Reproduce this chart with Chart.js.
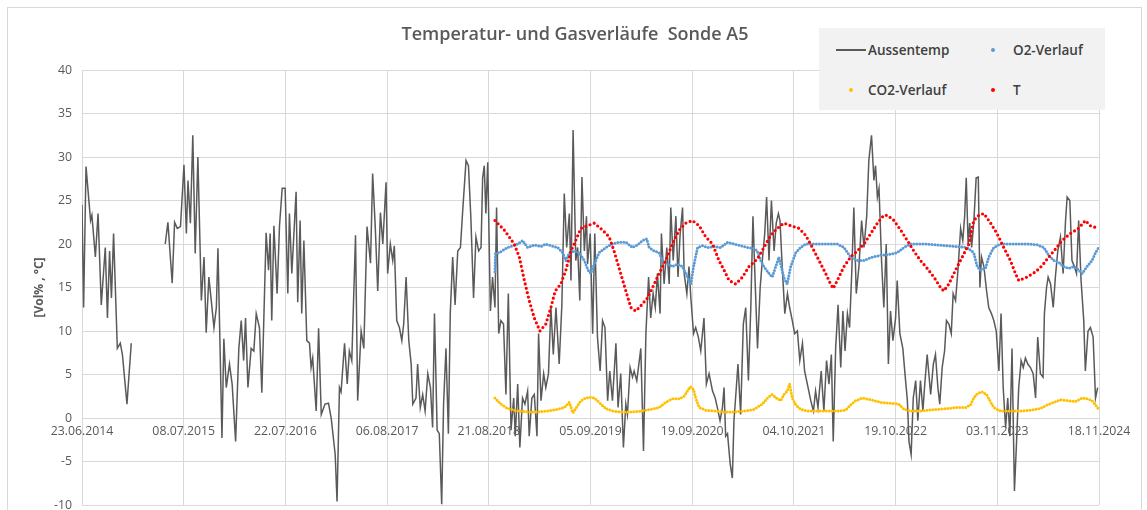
<!DOCTYPE html>
<html><head><meta charset="utf-8">
<script src="https://cdn.jsdelivr.net/npm/chart.js@4.4.1/dist/chart.umd.min.js"></script>
<style>
html,body{margin:0;padding:0;background:#fff;overflow:hidden;}
#wrap{position:relative;width:1147px;height:510px;overflow:hidden;}
#frame{position:absolute;left:7px;top:7px;width:1135px;height:530px;border:1px solid #d9d9d9;box-sizing:border-box;}
#c{position:absolute;left:0;top:0;}
#title{position:absolute;left:0;top:19px;width:1150px;text-align:center;font:600 18px 'Open Sans';color:#595959;line-height:28px;white-space:pre;}
#legend{position:absolute;left:819px;top:28px;width:286px;height:82px;background:#f2f2f2;font:600 13.5px 'Open Sans';color:#404040;}
.it{position:absolute;line-height:18px;white-space:nowrap;}
.dot{position:absolute;width:4px;height:4px;border-radius:2px;}
</style></head>
<body>
<div id="wrap">
<div id="frame"></div>
<canvas id="c" width="1147" height="510"></canvas>
<div id="title">Temperatur- und Gasverläufe  Sonde A5</div>
<div id="legend">
  <div style="position:absolute;left:17px;top:21px;width:30px;height:1.5px;background:#5a5a5a"></div>
  <div class="it" style="left:49px;top:13px">Aussentemp</div>
  <div class="dot" style="left:172px;top:20px;background:#5b9bd5"></div>
  <div class="it" style="left:194px;top:13px">O2-Verlauf</div>
  <div class="dot" style="left:30px;top:60px;background:#ffc000"></div>
  <div class="it" style="left:49px;top:53px">CO2-Verlauf</div>
  <div class="dot" style="left:172px;top:60px;background:#ff0000"></div>
  <div class="it" style="left:194px;top:53px">T</div>
</div>
</div>
<script>
// x values: days since 23.06.2014
const xTickLabels = ['23.06.2014','08.07.2015','22.07.2016','06.08.2017','21.08.2018','05.09.2019','19.09.2020','04.10.2021','19.10.2022','03.11.2023','18.11.2024'];
const xTickStepDays = 380;
const yTicks = {min:-10, max:40, step:5};

const aussentemp = [[0,24.5],[6,12.7],[15,28.9],[32,22.7],[37,23.3],[50,18.5],[60,23.5],[72,13],[87,19.6],[95,11.5],[103,19.2],[110,13.8],[118,21.2],[132,8],[143,8.6],[151,7.3],[168,1.6],[184,8.6],
[250,null],
[311,20],[321,22.5],[337,15.5],[346,22.5],[356,21.8],[368,22],[381,29.1],[390,21.2],[396,27.3],[405,22.4],[414,32.5],[423,18.9],[433,30],[446,13.5],[456,18.5],[464,9.8],[474,16.2],[483,13.5],[493,10.4],[502,12.7],[508,19.5],[523,-2.3],[530,9.1],[539,3.5],[551,6.2],[561,3.9],[574,-2.7],[586,8],[595,11.2],[604,6.6],[611,11.5],
[620,3.5],[632,8],[642,7.7],[651,12],[663,10.4],[672,2.9],[688,21.3],[697,17],[703,21.2],[709,11.2],[717,22.1],[729,14.3],[738,22.1],[748,26.4],[759,26.4],[769,14.3],[775,23.5],[784,16.6],[800,26],[806,13.3],[815,22.7],[821,12],[829,20.4],[840,8.9],[850,8.6],[856,5.8],[862,6.9],[875,0.8],[884,10.3],[894,0.4],[908,1.6],[921,1.7],[931,0],[946,-4.2],[953,-9.6],[962,3.5],[968,3.0],[981,8.6],[991,3.9],[999,7.7],[1008,6.6],[1022,21],[1030,2],[1043,10],[1053,8],[1065,22],[1078,17.8],[1086,28.1],[1096,21.8],[1105,14.6],[1115,23.6],[1124,20],[1136,27.1],[1142,16.6],[1152,20],[1161,18.1],[1167,19.8],[1176,11.2],[1186,10.4],[1195,8.9],[1202,10.8],[1211,16.2],[1221,8.9],[1230,6.2],[1236,1.6],[1248,2.3],
[1254,6.2],[1264,1.2],[1273,2.7],[1282,0.8],[1292,5.1],[1302,3.5],[1310,-1.1],[1317,12],[1327,-1.4],[1335,-1.8],[1344,-9.9],[1351,1.6],[1360,8],[1369,-1.8],[1376,12],[1385,18.5],[1394,13],[1404,19.2],[1414,19.6],[1422,23.6],[1435,29.6],[1444,29],[1453,23],[1463,13.8],[1472,20.8],[1482,19.2],[1491,19.6],[1497,27.6],[1503,29],[1509,23.5],[1516,29.4],[1526,12.3],[1534,16.2],[1543,12.7],[1549,24.2],[1557,9.7],[1565,11.2],[1575,10.8],[1584,2.7],[1593,14.3],[1603,-1.4],[1613,2.3],[1619,-2.1],[1628,3.9],[1636,-3.4],[1646,2.3],[1655,1.6],[1665,3.1],[1671,-2.1],[1681,2.3],[1690,2.7],[1700,-2.1],[1706,9.7],[1715,2.0],[1725,5.1],[1733,3.5],[1743,5.1],[1752,12.7],[1761,7.3],[1771,12.7],[1783,6.2],[1793,13],[1802,25.8],[1811,19.6],[1821,23.5],[1827,15.8],[1835,33.1],[1845,18.1],[1852,19.6],[1860,13.5],[1868,27.7],[1877,19.2],[1885,23.2],
[1889,17.7],[1899,21.2],[1908,9.7],[1916,21.2],[1926,9.3],[1936,5.4],[1945,11.2],[1954,10.4],[1964,2.0],[1972,5.4],[1982,2.0],[1995,8.6],[2003,1.2],[2013,5.1],[2023,-3.4],[2032,1.6],[2038,0.4],[2048,5.8],[2057,4.7],[2063,5.4],[2073,4.3],[2088,8],[2098,-3.8],[2107,9.7],[2117,16.2],[2125,11.5],[2134,14.3],[2142,12.7],[2150,16.6],[2160,12],[2165,21.2],[2175,15.4],[2185,19.6],[2194,15.4],[2200,24.2],[2209,18.1],[2219,23.2],[2227,16.2],[2235,21.2],[2244,24.2],[2250,16.6],[2260,14.3],[2268,17.4],[2275,13.8],[2285,9.7],[2293,10.4],[2303,9.3],[2312,7.7],[2324,11.5],[2333,3.9],[2343,5.1],[2356,3.1],[2366,2.3],[2374,1.2],[2384,-0.3],[2393,1.2],[2399,3.5],[2405,-2.1],[2412,-1.8],[2422,-5.3],[2430,-6.9],[2436,-0.3],[2443,2.7],[2451,6.2],[2461,0.4],[2471,10.8],[2480,12.7],[2490,4.3],[2499,12.7],[2507,23.2],[2515,15.8],
[2524,8],[2534,15],[2542,18.1],[2551,21.2],[2558,25.4],[2567,18.1],[2576,25],[2586,19.2],[2594,22.4],[2602,23.5],[2608,22.7],[2617,17],[2626,12],[2636,14.3],[2644,12.7],[2654,11.2],[2663,9.7],[2673,10],[2682,6.6],[2692,8.6],[2700,5.4],[2713,3.5],[2723,2.0],[2733,0.8],[2741,3.1],[2750,1.2],[2762,5.4],[2772,0.8],[2782,6.6],[2791,3.9],[2800,7.3],[2807,-2.7],[2816,8],[2825,13],[2835,5.8],[2843,12.3],[2851,7.7],[2860,12],[2868,10.4],[2876,16.6],[2884,24.2],[2893,14.3],[2903,17.4],[2913,22.7],[2922,19.6],[2932,23.2],[2940,29.6],[2950,32.5],[2959,27.3],[2965,29],[2972,25.4],[2978,26.4],[2988,17.7],[2996,12.7],[3005,20],[3013,6.2],[3021,12.3],[3030,8.9],[3040,11.5],[3046,15.8],[3056,9.7],[3067,8],[3075,5.1],[3084,2.0],[3090,-2.7],[3098,-4.2],[3106,2.3],[3115,4.3],[3123,-0.3],[3133,4.3],[3142,0.8],[3149,3.9],
[3158,7.3],[3171,2.7],[3181,6.2],[3189,7.3],[3198,3.5],[3205,1.6],[3214,5.8],[3223,7.7],[3230,11.2],[3239,10.8],[3248,9.7],[3255,14.3],[3264,13.5],[3273,17],[3283,21.8],[3291,20.4],[3298,23.2],[3304,27.6],[3311,20],[3317,22.4],[3324,19.6],[3332,22.4],[3341,27.6],[3349,27.7],[3355,15],[3361,18.5],[3370,17.4],[3380,14.6],[3388,12.7],[3398,12],[3407,11.2],[3416,10],[3426,5.4],[3434,12],[3442,3.5],[3451,-1.1],[3459,2.3],[3467,-2.1],[3475,8],[3484,-8.4],[3492,-2.7],[3500,3.5],[3509,6.6],[3517,5.8],[3525,6.9],[3534,6.2],[3544,5.8],[3554,5.1],[3563,2.3],[3571,9.3],[3581,5.1],[3591,4.7],[3596,12],[3604,15],[3610,16.2],[3619,15.4],[3629,12.7],[3637,16.2],[3646,19.2],[3656,20.8],[3666,16.6],[3675,22.7],[3681,25.4],[3691,25],[3699,18.1],[3708,17.4],[3716,16.6],[3724,22.7],[3733,15.8],[3743,11.2],[3749,5.4],[3759,10],[3768,10.4],[3778,9.3],[3787,2.3],[3795,3.5]];

const o2Verlauf = [[1543,16.8],[1545,18.9],[1559,19],[1590,19.6],[1628,20],[1646,20.4],[1665,19.6],[1690,19.9],[1715,19.7],[1733,20],[1752,19.8],[1777,19.6],[1796,19],[1808,18.1],[1821,19],[1839,19.2],[1858,19],[1877,18.1],[1891,17],[1901,16.6],[1914,17.7],[1932,19],[1957,19.6],[1982,20],[2007,20.2],[2032,20.2],[2057,19.6],[2076,19.9],[2094,20.4],[2110,20.6],[2119,19.6],[2138,19.2],[2156,19],[2169,18.1],[2188,17.7],[2206,17.4],[2225,17.7],[2244,17.4],[2262,16.2],[2275,15.4],[2285,17.4],[2300,19.6],[2318,19.8],[2337,19.6],[2362,19.7],[2387,19.6],[2412,20.2],[2436,20],[2461,19.8],[2486,19.6],[2511,19.5],[2523,19.2],[2536,18.1],[2548,17.4],[2567,16.6],[2579,16.2],[2592,17.4],[2604,18.5],[2623,16.1],[2635,15.4],[2648,17.4],[2667,19],[2685,19.6],[2704,20],[2729,20],[2760,20],[2791,20],[2822,20],[2847,19.6],[2872,18.5],[2897,18.1],[2922,18.1],[2953,18.5],[2984,18.7],[3015,18.8],[3046,19],[3071,19.6],[3096,20],[3127,20],[3158,20],[3195,19.9],[3233,19.8],[3270,19.7],[3307,19.6],[3332,19],[3345,17.4],[3357,17],[3376,17.2],[3388,18.5],[3407,19.6],[3432,20],[3463,20],[3494,20],[3531,20],[3569,19.9],[3594,19.6],[3612,18.7],[3631,18.1],[3650,17.9],[3668,17.4],[3687,17.2],[3706,17.4],[3724,17],[3737,16.6],[3755,17.4],[3774,18.1],[3787,19],[3799,19.6]];

const co2Verlauf = [[1543,2.3],[1565,1.6],[1590,1.1],[1628,0.8],[1665,0.7],[1702,0.7],[1740,0.8],[1777,1.0],[1802,1.2],[1821,1.8],[1834,0.6],[1862,1.9],[1875,2.2],[1896,2.4],[1914,2.3],[1932,1.8],[1957,1.1],[1982,0.8],[2013,0.7],[2051,0.7],[2088,0.8],[2125,1.0],[2156,1.2],[2181,1.8],[2206,2.2],[2231,2.2],[2250,2.5],[2262,3.1],[2272,3.6],[2285,3.3],[2293,2.3],[2306,1.2],[2331,0.9],[2362,0.8],[2399,0.7],[2436,0.7],[2474,0.8],[2511,1.0],[2542,1.6],[2561,2.3],[2579,2.7],[2598,2.2],[2611,2.0],[2623,2.7],[2635,3.1],[2644,3.9],[2654,2.3],[2667,1.5],[2685,1.0],[2710,0.8],[2747,0.8],[2785,0.8],[2822,0.8],[2853,0.9],[2872,1.5],[2891,2.0],[2916,2.3],[2947,2.1],[2984,1.8],[3021,1.7],[3052,1.6],[3071,1.0],[3096,0.8],[3133,0.8],[3158,0.9],[3195,1.0],[3233,1.1],[3270,1.2],[3301,1.2],[3320,1.5],[3332,2.3],[3345,2.8],[3363,3.0],[3380,2.7],[3392,2.0],[3407,1.2],[3432,0.8],[3469,0.8],[3507,0.8],[3544,0.9],[3581,1.1],[3606,1.5],[3631,1.8],[3656,2.1],[3681,2.0],[3712,1.9],[3737,2.3],[3755,2.2],[3774,2.0],[3787,1.5],[3799,1.0]];

const tVerlauf = [[1543,22.7],[1578,21.6],[1615,20],[1634,18.5],[1653,15.8],[1671,13.5],[1690,11.5],[1711,10],[1733,10.8],[1752,12.7],[1768,14.6],[1789,15.4],[1808,17],[1827,19.2],[1839,20],[1864,21.8],[1889,22.1],[1914,22.4],[1945,21.6],[1970,20.8],[1988,19.2],[2013,16.6],[2032,14.6],[2051,12.7],[2069,12.3],[2088,12.9],[2113,13.8],[2138,15.4],[2156,16.6],[2181,18.1],[2206,20],[2231,21.6],[2256,22.4],[2281,22.7],[2306,22.1],[2331,20.8],[2356,20],[2380,18.1],[2399,17],[2418,15.8],[2443,15.4],[2468,16.2],[2492,17.4],[2524,18.3],[2548,19.6],[2573,21],[2598,21.8],[2623,22.4],[2648,22.1],[2679,21.8],[2704,21],[2729,19.6],[2754,18.1],[2779,16.6],[2797,15.4],[2807,14.9],[2822,15.8],[2847,17.4],[2872,18.5],[2897,19.2],[2922,20],[2947,21.2],[2972,22.4],[2996,23.3],[3009,23.3],[3034,22.7],[3059,21.6],[3084,20.4],[3108,19.2],[3133,18.1],[3158,17.2],[3183,16.2],[3208,15],[3220,14.6],[3239,15.4],[3264,17],[3289,18.5],[3314,20],[3332,22.7],[3351,23.3],[3370,23.5],[3395,22.4],[3419,21.2],[3444,19.6],[3469,18.1],[3488,16.6],[3500,15.8],[3531,16.2],[3563,16.8],[3587,17.5],[3612,18.5],[3637,19.4],[3662,20.4],[3693,21.2],[3724,21.8],[3749,22.7],[3768,22.1],[3787,21.9],[3799,21.9]];

const xy = arr => arr.map(p => ({x:p[0], y:p[1]}));
const font = {family:"'Open Sans'", size:12};
const noPad = s => { s.paddingLeft = 0; s.paddingRight = 0; s.paddingTop = 0; s.paddingBottom = 0; };

new Chart(document.getElementById('c'), {
  type:'line',
  data:{datasets:[
    {label:'T', data:xy(tVerlauf), borderColor:'#ff0000', backgroundColor:'#ff0000', borderWidth:3.2, borderDash:[0,4.5], borderCapStyle:'round', pointRadius:0, order:1},
    {label:'CO2-Verlauf', data:xy(co2Verlauf), borderColor:'#ffc000', backgroundColor:'#ffc000', borderWidth:3, borderDash:[0,3], borderCapStyle:'round', pointRadius:0, order:2},
    {label:'O2-Verlauf', data:xy(o2Verlauf), borderColor:'#5b9bd5', backgroundColor:'#5b9bd5', borderWidth:3, borderDash:[0,3], borderCapStyle:'round', pointRadius:0, order:3},
    {label:'Aussentemp', data:xy(aussentemp), borderColor:'#5a5a5a', backgroundColor:'#5a5a5a', borderWidth:1.5, pointRadius:0, spanGaps:false, order:4}
  ]},
  options:{
    responsive:false, animation:false, events:[],
    layout:{padding:{left:30, right:48, top:70, bottom:5}},
    plugins:{legend:{display:false}, tooltip:{enabled:false}, title:{display:false}},
    scales:{
      x:{type:'linear', min:0, max:xTickStepDays*(xTickLabels.length-1), position:{y:0},
        afterBuildTicks:s => { s.ticks = xTickLabels.map((l,i)=>({value:i*xTickStepDays})); },
        afterFit: noPad,
        ticks:{callback:(v,i)=>xTickLabels[i], color:'#595959', font:{family:"'Open Sans'", size:12.3}, maxRotation:0, autoSkip:false, padding:6},
        grid:{color:'#d9d9d9', drawTicks:false}, border:{display:false}},
      y:{min:yTicks.min, max:yTicks.max,
        afterFit: s => { s.width = 52; noPad(s); },
        ticks:{stepSize:yTicks.step, color:'#595959', font:{family:"'Open Sans'", size:12.3}, padding:10},
        grid:{color:'#d9d9d9', drawTicks:false}, border:{display:false},
        title:{display:true, text:'[Vol% , °C]', color:'#595959', font:{family:"'Open Sans'", size:12, weight:'bold'}, padding:{top:2,bottom:0}}}
    }
  }
});
</script>
</body></html>
